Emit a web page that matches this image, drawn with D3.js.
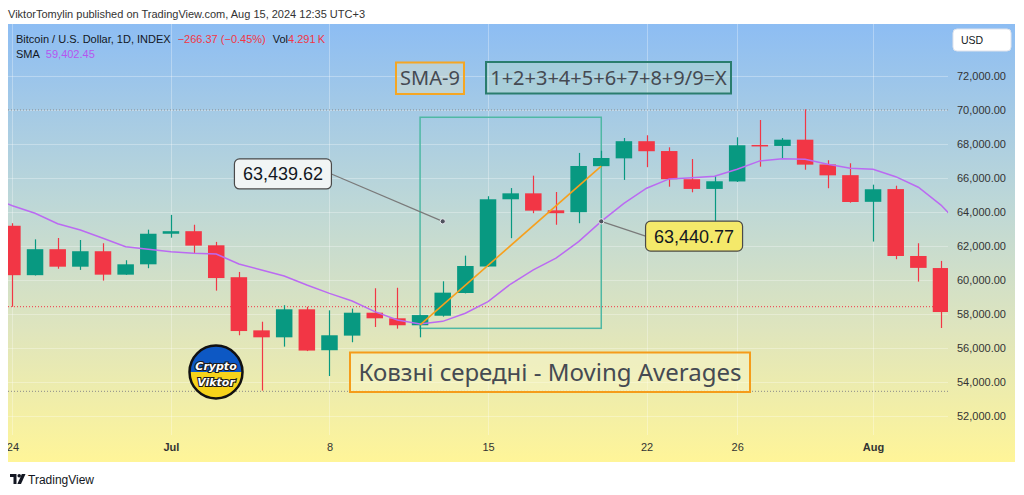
<!DOCTYPE html>
<meta charset="utf-8">
<style>
    body {margin: 0; background: #fff; font-family: 'Liberation Sans', Arial, sans-serif;}
</style>
<svg width="1024" height="495"></svg>
<script src="https://d3js.org/d3.v7.min.js"></script>
<script>

// daily candles, BTC/USD
var dates = ["2024-06-24","2024-06-25","2024-06-26","2024-06-27","2024-06-28","2024-06-29","2024-06-30",
             "2024-07-01","2024-07-02","2024-07-03","2024-07-04","2024-07-05","2024-07-06","2024-07-07",
             "2024-07-08","2024-07-09","2024-07-10","2024-07-11","2024-07-12","2024-07-13","2024-07-14",
             "2024-07-15","2024-07-16","2024-07-17","2024-07-18","2024-07-19","2024-07-20","2024-07-21",
             "2024-07-22","2024-07-23","2024-07-24","2024-07-25","2024-07-26","2024-07-27","2024-07-28",
             "2024-07-29","2024-07-30","2024-07-31","2024-08-01","2024-08-02","2024-08-03","2024-08-04"];
var opens  = [63180,60270,61800,60770,61680,60300,60910, 62710,62860,62030,60150,57020,56610,58260,
              55850,56710,58060,57730,57320,57880,59220, 60780,64740,65090,64090,63980,66690,67150,
              68160,67580,65920,65350,65790,67940,67880, 68250,66790,66160,64590,65340,61400,60690];
var highs  = [63330,62380,62460,62340,62150,61150,62950, 63820,63240,62230,60460,57530,58500,58410,
              58200,58300,59500,59530,57930,59910,61420, 64920,65400,66130,65170,67470,67600,68350,
              68510,67800,67110,66100,68390,69410,68350, 70040,67040,66860,65600,65540,62150,61110];
var lows   = [58410,60250,60650,60580,59950,60290,60680, 62480,61580,59360,56730,53470,56060,55800,
              54330,56320,57220,57120,56610,57830,59200, 60760,62450,63920,63240,63330,66650,65880,
              66630,65480,65150,63420,65760,66660,67110, 66480,65390,64540,62250,61210,59890,57160];
var closes = [60270,61800,60770,61680,60300,60910,62710, 62860,62010,60100,56980,56610,58260,55830,
              56730,58060,57730,57320,57920,59240,60810, 64740,65090,64070,63920,66700,67170,68160,
              67570,65920,65350,65800,67920,67900,68250, 66780,66150,64580,65330,61400,60700,58100];

// SMA-9
var smaDates  = ["2024-06-23"].concat(dates, ["2024-08-05"]);
var smaValues = [64880, 64360,63915,63300,62930,62440,61950,61800, 61650,61560,61520,60930,60580,60220,59690,
                 59200,58750,58120,57630,57400,57550,58030, 58710,59750,60580,61270,62250,63440.77,64500,
                 65390,65940,66010,66100,66510,67000,67130, 67100,66800,66570,66510,66070,65450,64400, 63000];

var priceTicks = [52000,54000,56000,58000,60000,62000,64000,66000,68000,70000,72000];
var timeTicks  = ["2024-06-24","2024-07-01","2024-07-08","2024-07-15","2024-07-22","2024-07-26","2024-08-01"];

var lastPrice   = 58414;
var levelPrices = [70000, 53430];
var boxDates    = ["2024-07-12","2024-07-20"];
var boxPrices   = [69570, 57140];
var trendDates  = ["2024-07-12","2024-07-20"];
var trendPrices = [57340, 66690];
var calloutDates  = ["2024-07-13","2024-07-20"];
var calloutPrices = [63439.62, 63440.77];

var GREEN = "#089981", RED = "#f23645";

var svg = d3.select("svg"),
    width = +svg.attr("width"),
    height = +svg.attr("height");

var parse = d3.utcParse("%Y-%m-%d");
var fmtPrice = d3.format(",.2f");

var x = d3.scaleUtc()
    .domain([parse("2024-06-24"), parse("2024-08-04")])
    .range([12.4, 941]);
var y = d3.scaleLinear()
    .domain([52000, 72000])
    .range([415.6, 76]);

var plotL = 8, plotR = 948, chartR = 1015, chartT = 24, chartB = 462;

var defs = svg.append("defs");
var grad = defs.append("linearGradient")
    .attr("id", "bg").attr("x1", 0).attr("y1", 0).attr("x2", 0).attr("y2", 1);
[[0, "#8dbdf3"], [0.4, "#bcd7d8"], [0.7, "#dfe5bd"], [1, "#fff598"]].forEach(function(s) {
  grad.append("stop").attr("offset", s[0]).attr("stop-color", s[1]);
});
defs.append("clipPath").attr("id", "plotclip")
  .append("rect").attr("x", plotL).attr("y", chartT).attr("width", plotR - plotL).attr("height", chartB - chartT);
defs.append("clipPath").attr("id", "axisclip")
  .append("rect").attr("x", plotL).attr("y", chartT).attr("width", chartR - plotL).attr("height", chartB - chartT);

// background
svg.append("rect")
    .attr("x", plotL).attr("y", chartT)
    .attr("width", chartR - plotL).attr("height", chartB - chartT)
    .style("fill", "url(#bg)");

// top credit line
svg.append("text")
    .attr("x", 8).attr("y", 18)
    .style("font-size", "11px").style("fill", "#333")
    .text("ViktorTomylin published on TradingView.com, Aug 15, 2024 12:35 UTC+3");

// faint grid
var grid = svg.append("g").attr("clip-path", "url(#plotclip)")
    .style("stroke", "rgba(255,255,255,0.3)").style("stroke-width", 1);
grid.selectAll("line.h").data(priceTicks).enter().append("line")
    .attr("x1", plotL).attr("x2", plotR)
    .attr("y1", function(d) { return Math.round(y(d)) + 0.5; })
    .attr("y2", function(d) { return Math.round(y(d)) + 0.5; });
grid.selectAll("line.v").data(timeTicks).enter().append("line")
    .attr("y1", chartT).attr("y2", 435)
    .attr("x1", function(d) { return Math.round(x(parse(d))) + 0.5; })
    .attr("x2", function(d) { return Math.round(x(parse(d))) + 0.5; });

var plot = svg.append("g").attr("clip-path", "url(#plotclip)");

// dotted levels
plot.selectAll("line.level").data(levelPrices).enter().append("line")
    .attr("x1", plotL).attr("x2", plotR)
    .attr("y1", function(d) { return y(d); }).attr("y2", function(d) { return y(d); })
    .style("stroke", "#8a8a8a").style("stroke-width", 1).style("stroke-dasharray", "1,2");
plot.append("line")
    .attr("x1", plotL).attr("x2", plotR)
    .attr("y1", y(lastPrice)).attr("y2", y(lastPrice))
    .style("stroke", RED).style("stroke-width", 1).style("stroke-dasharray", "1,2");

// rectangle drawing
plot.append("rect")
    .attr("x", x(parse(boxDates[0]))).attr("y", y(boxPrices[0]))
    .attr("width", x(parse(boxDates[1])) - x(parse(boxDates[0])))
    .attr("height", y(boxPrices[1]) - y(boxPrices[0]))
    .style("fill", "none").style("stroke", "#4fb8a4").style("stroke-width", 1.5);

// candles
var candles = dates.map(function(d, i) {
  return {date: parse(d), o: opens[i], h: highs[i], l: lows[i], c: closes[i]};
});
var bodyW = 16.5;
var cg = plot.append("g").selectAll("g").data(candles).enter().append("g");
cg.append("line")
    .attr("x1", function(d) { return Math.round(x(d.date)) + 0.5; })
    .attr("x2", function(d) { return Math.round(x(d.date)) + 0.5; })
    .attr("y1", function(d) { return y(d.h); })
    .attr("y2", function(d) { return y(d.l); })
    .style("stroke", function(d) { return d.c >= d.o ? GREEN : RED; })
    .style("stroke-width", 1.2);
cg.append("rect")
    .attr("x", function(d) { return x(d.date) - bodyW / 2; })
    .attr("width", bodyW)
    .attr("y", function(d) { return y(Math.max(d.o, d.c)); })
    .attr("height", function(d) { return Math.max(1.5, y(Math.min(d.o, d.c)) - y(Math.max(d.o, d.c))); })
    .style("fill", function(d) { return d.c >= d.o ? GREEN : RED; });

// SMA line
var sma = smaDates.map(function(d, i) { return {date: parse(d), v: smaValues[i]}; });
plot.append("path")
    .datum(sma)
    .attr("d", d3.line().x(function(d) { return x(d.date); }).y(function(d) { return y(d.v); }))
    .style("fill", "none").style("stroke", "#bb6af2").style("stroke-width", 1.5);

// orange trend line
plot.append("line")
    .attr("x1", x(parse(trendDates[0]))).attr("y1", y(trendPrices[0]))
    .attr("x2", x(parse(trendDates[1]))).attr("y2", y(trendPrices[1]))
    .style("stroke", "#f7a01d").style("stroke-width", 1.6);

// callouts
var calloutStyle = [
  {dx: -111.3, dy: -47.4, side: "right", fill: "#f1f5f5"},
  {dx: 44.3,   dy: 14.8,  side: "left",  fill: "#f4e96a"}
];
var bw = 97, bh = 30;
calloutDates.forEach(function(d, i) {
  var ax = x(parse(d)), ay = y(calloutPrices[i]), s = calloutStyle[i];
  var bx = s.side === "right" ? ax + s.dx - bw : ax + s.dx;
  var by = ay + s.dy - bh / 2;
  var ex = s.side === "right" ? bx + bw : bx;
  var g = svg.append("g");
  g.append("line")
      .attr("x1", ax).attr("y1", ay).attr("x2", ex).attr("y2", ay + s.dy)
      .style("stroke", "#7a7a7a").style("stroke-width", 1.2);
  g.append("circle").attr("cx", ax).attr("cy", ay).attr("r", 2.6)
      .style("fill", "#50535e").style("stroke", "#e8ecf0").style("stroke-width", 1);
  g.append("rect").attr("x", bx).attr("y", by).attr("width", bw).attr("height", bh).attr("rx", 5)
      .style("fill", s.fill).style("stroke", "#4a4a4a").style("stroke-width", 1.2);
  g.append("text").attr("x", bx + bw / 2).attr("y", by + bh / 2 + 6.5)
      .attr("text-anchor", "middle")
      .style("font-size", "18px").style("fill", "#131722")
      .text(fmtPrice(calloutPrices[i]));
});

// text boxes
function textBox(bx, by, w, h, fill, stroke, size, txt) {
  var g = svg.append("g");
  g.append("rect").attr("x", bx).attr("y", by).attr("width", w).attr("height", h)
      .style("fill", fill).style("stroke", stroke).style("stroke-width", 2);
  g.append("text").attr("x", bx + w / 2).attr("y", by + h / 2 + size * 0.36)
      .attr("text-anchor", "middle")
      .style("font-family", "'Noto Sans', sans-serif")
      .style("font-size", size + "px").style("fill", "#454a52")
      .text(txt);
}
textBox(396, 62.5, 68, 31.5, "rgba(255,240,180,0.3)", "#f5a623", 20, "SMA-9");
textBox(486, 62, 245, 31.5, "rgba(200,230,170,0.25)", "#2a7d6e", 20, "1+2+3+4+5+6+7+8+9/9=X");
textBox(350, 352.5, 400, 39.5, "rgba(255,252,215,0.35)", "#f59c1a", 24, "Ковзні середні - Moving Averages");

// logo
var logo = svg.append("g").attr("transform", "translate(216,372)");
defs.append("clipPath").attr("id", "logoclip").append("circle").attr("r", 27);
var lc = logo.append("g").attr("clip-path", "url(#logoclip)");
lc.append("rect").attr("x", -28).attr("y", -28).attr("width", 56).attr("height", 28).style("fill", "#0d58c4");
lc.append("rect").attr("x", -28).attr("y", 0).attr("width", 56).attr("height", 28).style("fill", "#f6d31a");
logo.append("circle").attr("r", 26.5).style("fill", "none").style("stroke", "#111").style("stroke-width", 2.5);
[["Crypto", -2.5], ["Viktor", 13.5]].forEach(function(t) {
  logo.append("text").attr("x", 0).attr("y", t[1]).attr("text-anchor", "middle")
      .style("font-family", "'DejaVu Sans', sans-serif").style("font-weight", "bold").style("font-style", "italic")
      .style("font-size", "11px").style("fill", "#fff")
      .style("stroke", "#1a1a1a").style("stroke-width", 2.2).style("paint-order", "stroke")
      .text(t[0]);
});

// legend header
var hdr = svg.append("text").attr("x", 16).attr("y", 42.5).style("font-size", "11px").style("fill", "#131722");
hdr.append("tspan").text("Bitcoin / U.S. Dollar, 1D, INDEX");
hdr.append("tspan").attr("dx", 7).style("fill", RED).text("\u2212266.37 (\u22120.45%)");
hdr.append("tspan").attr("dx", 7).text("Vol");
hdr.append("tspan").style("fill", RED).text("4.291\u2009K");
var sm = svg.append("text").attr("x", 16).attr("y", 58.3).style("font-size", "11px").style("fill", "#131722");
sm.append("tspan").text("SMA");
sm.append("tspan").attr("dx", 6).style("fill", "#b655f0").text("59,402.45");

// USD button
svg.append("rect").attr("x", 953).attr("y", 29).attr("width", 58).attr("height", 22).attr("rx", 4)
    .style("fill", "#fff").style("stroke", "#e0e3eb");
svg.append("text").attr("x", 961).attr("y", 44).style("font-size", "10.5px").style("fill", "#131722").text("USD");

// price axis
var yAxis = d3.axisRight(y).tickValues(priceTicks).tickFormat(fmtPrice).tickSize(0).tickPadding(0);
svg.append("g")
    .attr("transform", "translate(957,0)")
    .call(yAxis)
    .call(function(g) { g.select(".domain").remove(); })
    .selectAll("text")
    .style("font-family", "'Liberation Sans', Arial, sans-serif")
    .style("font-size", "11px").style("fill", "#333");

// time axis
var xAxis = d3.axisBottom(x)
    .tickValues(timeTicks.map(parse))
    .tickFormat(function(d) { return d.getUTCDate() === 1 ? d3.utcFormat("%b")(d) : d3.utcFormat("%-d")(d); })
    .tickSize(0).tickPadding(0);
var xg = svg.append("g")
    .attr("clip-path", "url(#axisclip)")
  .append("g")
    .attr("transform", "translate(0,443)")
    .call(xAxis);
xg.select(".domain").remove();
xg.selectAll("text")
    .style("font-family", "'Liberation Sans', Arial, sans-serif")
    .style("font-size", "11px").style("fill", "#333")
    .style("font-weight", function(d) { return d.getUTCDate() === 1 ? "bold" : "normal"; });

// TradingView footer
var tv = svg.append("g").attr("transform", "translate(10,474)").style("fill", "#131722");
tv.append("path").attr("d", "M0 0 H6.5 V10 H3.5 V3 H0 Z");
tv.append("circle").attr("cx", 9.2).attr("cy", 1.8).attr("r", 1.8);
tv.append("path").attr("d", "M11.8 0 H15.5 L11 10 H7.4 Z");
svg.append("text").attr("x", 28).attr("y", 483.5)
    .style("font-size", "12px").style("fill", "#131722")
    .text("TradingView");

</script>
